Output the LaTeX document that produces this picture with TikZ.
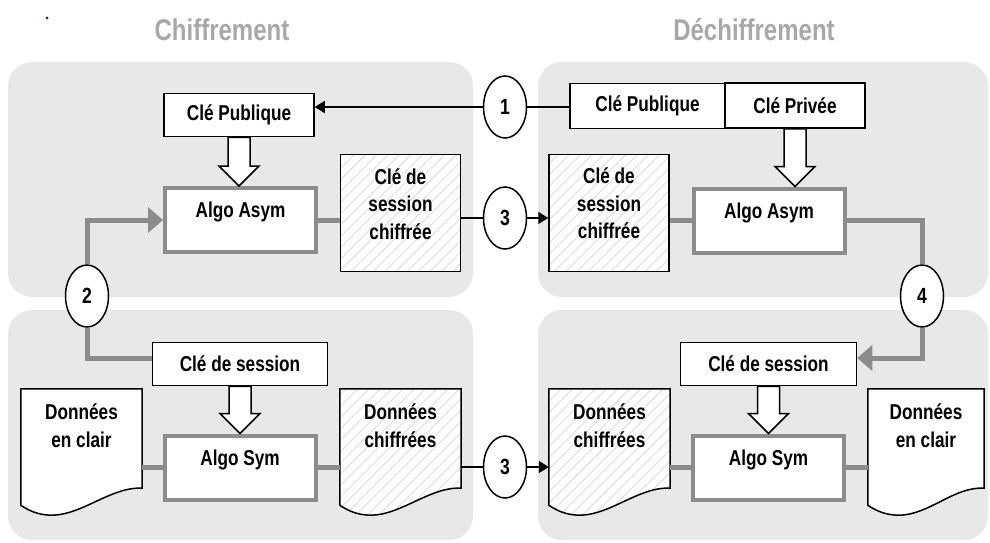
\documentclass[tikz,border=0pt]{standalone}
\usepackage{fontspec}
\setmainfont{Liberation Sans}[FakeStretch=0.8]
\usetikzlibrary{positioning,shapes.geometric,arrows.meta,patterns.meta,calc}

\definecolor{panelgray}{HTML}{E8E8E8}
\definecolor{conngray}{HTML}{8C8C8C}
\definecolor{titlegray}{HTML}{A8A8A8}
\definecolor{hatchgray}{HTML}{DDDDDD}
\definecolor{dotblue}{HTML}{30306A}

\newcommand{\boxfont}{\fontsize{21.5}{27.5}\selectfont\bfseries}

% document shape with a wavy bottom, around a named node
\newcommand{\docshape}[2]{%
  \draw[#2] (#1.north west) -- (#1.north east) -- ($(#1.south east)+(0,-17)$)
    .. controls ($(#1.south east)+(-30,-19)$) and ($(#1.south west)+(61,10)$) .. ($(#1.south west)+(31,10)$)
    .. controls ($(#1.south west)+(16,10)$) and ($(#1.south west)+(6,4)$) .. (#1.south west) -- cycle;}

% hollow key arrow from one box down to the next
\newcommand{\keyarrow}[2]{%
  \draw[bigarrow] let \p1=(#1.south), \p2=(#2.north) in
    (\x1-11pt,\y1) -- (\x1-11pt,\y2+20pt) -- (\x1-20pt,\y2+20pt) -- (\x1,\y2)
    -- (\x1+20pt,\y2+20pt) -- (\x1+11pt,\y2+20pt) -- (\x1+11pt,\y1) -- cycle;}

\tikzset{
  panel/.style={fill=panelgray, rounded corners=24pt},
  title/.style={text=titlegray, font={\fontsize{30}{32}\selectfont\bfseries}},
  keybox/.style={draw, line width=1.5pt, fill=white, inner sep=0pt, font=\boxfont},
  algobox/.style={draw=conngray, line width=4pt, fill=white, inner sep=0pt,
    minimum width=151pt, minimum height=64pt, text height=16pt, text depth=21pt, font=\boxfont},
  hatchbox/.style={draw, line width=1.5pt, preaction={fill=white},
    pattern={Lines[angle=45,distance=8pt,line width=0.9pt]}, pattern color=hatchgray,
    inner sep=0pt, minimum width=120pt, minimum height=117pt},
  docnode/.style={inner sep=0pt, minimum height=116pt},
  docplain/.style={draw, line width=1.5pt, fill=white},
  dochatch/.style={draw, line width=1.5pt, preaction={fill=white},
    pattern={Lines[angle=45,distance=8pt,line width=0.9pt]}, pattern color=hatchgray},
  lbl/.style={align=center, inner sep=0pt, font=\boxfont},
  num/.style={ellipse, draw, line width=1.5pt, fill=white, inner sep=0pt,
    minimum width=43pt, minimum height=62pt, font={\fontsize{22}{24}\selectfont\bfseries}},
  graylink/.style={draw=conngray, line width=5pt},
  grayarrow/.style={graylink, -{Triangle[length=15pt,width=25pt]}},
  blacklink/.style={draw, line width=1.5pt},
  blackarrow/.style={blacklink, -{Triangle[length=10pt,width=12pt]}},
  bigarrow/.style={draw, fill=white, line width=1.5pt},
}

\begin{document}
\begin{tikzpicture}[x=1pt,y=-1pt]
  \useasboundingbox (0,0) rectangle (990,543);
  \fill[dotblue] (47,18) circle (1.6);

  % panels
  \fill[panel] (8,62) rectangle (473,297);
  \fill[panel] (538,62) rectangle (988,297);
  \fill[panel] (8,310) rectangle (473,540);
  \fill[panel] (538,310) rectangle (988,540);

  \node[title] (tchif) at (222,30) {Chiffrement};
  \node[title] (tdech) at (754,30) {Déchiffrement};

  % chiffrement, cle de session
  \node[keybox, minimum width=150pt, minimum height=43pt] (pubA) at (239,115) {Clé Publique};
  \node[algobox] (asymA) at (240.5,220) {Algo Asym};
  \node[hatchbox] (keyA) at (400.5,213) {};
  \node[lbl, below=14pt of keyA.north] (keyAtxt) {Clé de\\session\\chiffrée};

  % dechiffrement, cle de session
  \node[keybox, minimum width=155pt, minimum height=45pt] (pubB) at (647.5,106) {Clé Publique};
  \node[keybox, minimum width=140pt, minimum height=45pt] (privB) at (795,105.5) {Clé Privée};
  \node[hatchbox] (keyB) at (609,213) {};
  \node[lbl, below=14pt of keyB.north] (keyBtxt) {Clé de\\session\\chiffrée};
  \node[algobox] (asymB) at (769,220.5) {Algo Asym};

  % donnees
  \node[keybox, minimum width=175pt, minimum height=43pt] (sessA) at (240,364) {Clé de session};
  \node[algobox] (symA) at (240,467.5) {Algo Sym};
  \node[docnode, minimum width=121pt] (docA) at (81.5,447) {};
  \docshape{docA}{docplain}
  \node[lbl, below=15pt of docA.north] (docAtxt) {Données\\en clair};
  \node[docnode, minimum width=121pt] (docB) at (400.5,447) {};
  \docshape{docB}{dochatch}
  \node[lbl, below=15pt of docB.north] (docBtxt) {Données\\chiffrées};

  \node[keybox, minimum width=176pt, minimum height=43pt] (sessB) at (768.5,364) {Clé de session};
  \node[algobox] (symB) at (768.5,467.5) {Algo Sym};
  \node[docnode, minimum width=121pt] (docC) at (609.5,447) {};
  \docshape{docC}{dochatch}
  \node[lbl, below=15pt of docC.north] (docCtxt) {Données\\chiffrées};
  \node[docnode, minimum width=116pt] (docD) at (926,447) {};
  \docshape{docD}{docplain}
  \node[lbl, below=15pt of docD.north] (docDtxt) {Données\\en clair};

  % steps
  \node[num] (n1) at (505,107) {1};
  \node[num] (n2) at (87,296) {2};
  \node[num] (n3a) at (505,218) {3};
  \node[num] (n4) at (922,296) {4};
  \node[num] (n3b) at (505,467) {3};

  % key arrows
  \keyarrow{pubA}{asymA}
  \keyarrow{privB}{asymB}
  \keyarrow{sessA}{symA}
  \keyarrow{sessB}{symB}

  % connectors
  \draw[blackarrow] (n1.west) -- (n1.west -| pubA.east);
  \draw[blacklink] (n1.east) -- (n1.east -| pubB.west);
  \draw[graylink] (asymA.east) -- (asymA.east -| keyA.west);
  \draw[blacklink] (n3a.west -| keyA.east) -- (n3a.west);
  \draw[blackarrow] (n3a.east) -- (n3a.east -| keyB.west);
  \draw[graylink] (keyB.east |- asymB.west) -- (asymB.west);
  \draw[grayarrow] (n2.north) |- (asymA.west);
  \draw[graylink] (n2.south) |- ([yshift=6pt]sessA.west);
  \draw[graylink] (asymB.east) -| (n4.north);
  \draw[grayarrow] (n4.south) |- ([yshift=6pt]sessB.east);
  \draw[graylink] (docA.east |- symA.west) -- (symA.west);
  \draw[graylink] (symA.east) -- (symA.east -| docB.west);
  \draw[blacklink] (docB.east |- n3b.west) -- (n3b.west);
  \draw[blackarrow] (n3b.east) -- (n3b.east -| docC.west);
  \draw[graylink] (docC.east |- symB.west) -- (symB.west);
  \draw[graylink] (symB.east) -- (symB.east -| docD.west);
\end{tikzpicture}
\end{document}
